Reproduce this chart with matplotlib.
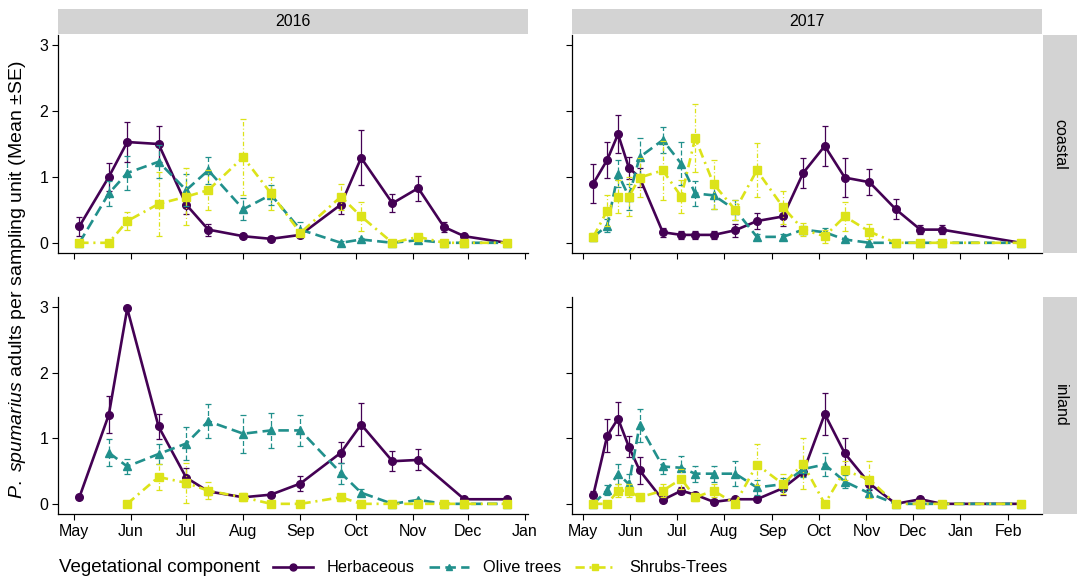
import matplotlib.pyplot as plt
import matplotlib.dates as mdates
from matplotlib.lines import Line2D
import numpy as np
import pandas as pd

plt.rcParams['font.family'] = ['Liberation Sans', 'DejaVu Sans']
plt.rcParams['mathtext.fontset'] = 'custom'
plt.rcParams['mathtext.it'] = 'Liberation Sans:italic'
plt.rcParams['mathtext.rm'] = 'Liberation Sans'

nan = np.nan

# sampling dates
dates_2016 = ['2016-05-04', '2016-05-20', '2016-05-30', '2016-06-16', '2016-07-01', '2016-07-13',
              '2016-08-01', '2016-08-16', '2016-09-01', '2016-09-23', '2016-10-04', '2016-10-21',
              '2016-11-04', '2016-11-18', '2016-11-29', '2016-12-22']
dates_2017 = ['2017-05-08', '2017-05-17', '2017-05-24', '2017-05-31', '2017-06-07', '2017-06-22',
              '2017-07-04', '2017-07-13', '2017-07-25', '2017-08-08', '2017-08-22', '2017-09-08',
              '2017-09-21', '2017-10-05', '2017-10-18', '2017-11-03', '2017-11-20', '2017-12-06',
              '2017-12-20', '2018-02-09']

# coastal 2016
herb_c16 = [0.25, 1.0, 1.53, 1.5, 0.58, 0.2, 0.1, 0.06, 0.12, 0.58, 1.29, 0.6, 0.83, 0.24, 0.1, 0.0]
herb_c16_se = [0.14, 0.21, 0.31, 0.27, 0.15, 0.09, 0.03, 0.03, 0.04, 0.15, 0.42, 0.14, 0.19, 0.08, 0.03, 0.0]
olive_c16 = [0.0, 0.75, 1.06, 1.23, 0.8, 1.1, 0.51, 0.73, 0.2, 0.0, 0.05, 0.0, 0.04, 0.0, 0.0, 0.0]
olive_c16_se = [0.0, 0.19, 0.26, 0.25, 0.24, 0.21, 0.17, 0.15, 0.11, 0.02, 0.03, 0.0, 0.02, 0.0, 0.0, 0.0]
shrub_c16 = [0.0, 0.0, 0.33, 0.59, 0.7, 0.8, 1.3, 0.75, 0.15, 0.7, 0.4, 0.0, 0.09, 0.0, 0.0, 0.0]
shrub_c16_se = [0.0, 0.0, 0.14, 0.49, 0.43, 0.3, 0.58, 0.25, 0.05, 0.2, 0.22, 0.0, 0.05, 0.0, 0.0, 0.0]

# inland 2016
herb_i16 = [0.1, 1.36, 2.98, 1.18, 0.4, 0.19, 0.1, 0.14, 0.31, 0.78, 1.21, 0.65, 0.67, nan, 0.07, 0.07]
herb_i16_se = [0.03, 0.28, 0.02, 0.19, 0.14, 0.05, 0.04, 0.04, 0.12, 0.16, 0.33, 0.15, 0.16, nan, 0.02, 0.02]
olive_i16 = [nan, 0.78, 0.57, 0.76, 0.92, 1.26, 1.07, 1.12, 1.12, 0.47, 0.17, 0.0, 0.06, 0.0, 0.0, 0.0]
olive_i16_se = [nan, 0.21, 0.12, 0.15, 0.25, 0.26, 0.29, 0.27, 0.24, 0.16, 0.05, 0.0, 0.02, 0.0, 0.0, 0.0]
shrub_i16 = [nan, nan, 0.0, 0.41, 0.32, 0.2, 0.1, 0.0, 0.0, 0.1, 0.0, 0.0, 0.0, 0.0, 0.0, 0.0]
shrub_i16_se = [nan, nan, 0.0, 0.2, 0.3, 0.13, 0.06, 0.0, 0.0, 0.05, 0.0, 0.0, 0.0, 0.0, 0.0, 0.0]

# coastal 2017
herb_c17 = [0.9, 1.26, 1.65, 1.14, 0.99, 0.16, 0.12, 0.12, 0.12, 0.19, 0.33, 0.4, 1.06, 1.47,
            0.99, 0.92, 0.51, 0.2, 0.2, 0.0]
herb_c17_se = [0.3, 0.27, 0.29, 0.17, 0.15, 0.07, 0.06, 0.06, 0.06, 0.1, 0.12, 0.14, 0.23, 0.31,
               0.3, 0.2, 0.15, 0.07, 0.07, 0.0]
olive_c17 = [0.09, 0.26, 1.05, 0.7, 1.3, 1.56, 1.2, 0.75, 0.72, 0.5, 0.09, 0.09, 0.2, 0.16,
             0.05, 0.0, 0.0, 0.0, 0.0, 0.0]
olive_c17_se = [0.05, 0.1, 0.21, 0.2, 0.29, 0.2, 0.33, 0.19, 0.2, 0.15, 0.04, 0.04, 0.06, 0.07,
                0.03, 0.0, 0.0, 0.0, 0.0, 0.0]
shrub_c17 = [0.09, 0.49, 0.7, 0.7, 0.99, 1.1, 0.7, 1.59, 0.89, 0.5, 1.1, 0.54, 0.2, 0.1,
             0.4, 0.17, 0.0, 0.0, 0.0, 0.0]
shrub_c17_se = [0.06, 0.23, 0.25, 0.3, 0.3, 0.45, 0.25, 0.51, 0.37, 0.15, 0.41, 0.25, 0.1, 0.1,
                0.22, 0.12, 0.0, 0.0, 0.0, 0.0]

# inland 2017
herb_i17 = [0.14, 1.04, 1.3, 0.87, 0.51, 0.06, 0.2, 0.14, 0.03, 0.07, 0.07, 0.24, 0.48, 1.37,
            0.77, 0.31, 0.0, 0.07, 0.0, 0.0]
herb_i17_se = [0.05, 0.25, 0.25, 0.16, 0.21, 0.03, 0.05, 0.04, 0.02, 0.03, 0.03, 0.1, 0.05, 0.32,
               0.23, 0.1, 0.0, 0.03, 0.0, 0.0]
olive_i17 = [0.0, 0.21, 0.46, 0.3, 1.2, 0.57, 0.55, 0.46, 0.46, 0.46, 0.25, 0.3, 0.53, 0.6,
             0.34, 0.16, 0.0, 0.0, 0.0, 0.0]
olive_i17_se = [0.0, 0.08, 0.15, 0.15, 0.25, 0.12, 0.18, 0.12, 0.12, 0.19, 0.12, 0.1, 0.12, 0.18,
                0.1, 0.06, 0.0, 0.0, 0.0, 0.0]
shrub_i17 = [0.0, 0.0, 0.2, 0.2, 0.1, 0.2, 0.38, 0.1, 0.2, 0.0, 0.6, 0.3, 0.61, 0.0,
             0.51, 0.37, 0.0, 0.0, 0.0, 0.0]
shrub_i17_se = [0.0, 0.0, 0.1, 0.1, 0.05, 0.1, 0.15, 0.05, 0.1, 0.0, 0.31, 0.15, 0.39, 0.0,
                0.15, 0.28, 0.0, 0.0, 0.0, 0.0]

components = ['Herbaceous', 'Olive trees', 'Shrubs-Trees']
colors = ['#440154', '#21908C', '#DCE319']
markers = ['o', '^', 's']
dash_styles = ['-', (0, (4, 2)), (0, (3.5, 1.8, 0.8, 1.8))]

panels = {
    ('coastal', 2016): (dates_2016, [(herb_c16, herb_c16_se), (olive_c16, olive_c16_se), (shrub_c16, shrub_c16_se)]),
    ('coastal', 2017): (dates_2017, [(herb_c17, herb_c17_se), (olive_c17, olive_c17_se), (shrub_c17, shrub_c17_se)]),
    ('inland', 2016): (dates_2016, [(herb_i16, herb_i16_se), (olive_i16, olive_i16_se), (shrub_i16, shrub_i16_se)]),
    ('inland', 2017): (dates_2017, [(herb_i17, herb_i17_se), (olive_i17, olive_i17_se), (shrub_i17, shrub_i17_se)]),
}

W, H = 1083, 579
fig = plt.figure(figsize=(W / 100, H / 100), dpi=100)

def px_axes(x0, y0, x1, y1):
    return fig.add_axes([x0 / W, 1 - y1 / H, (x1 - x0) / W, (y1 - y0) / H])

col_x = {2016: (58, 528), 2017: (572, 1042)}
row_y = {'coastal': (35, 253), 'inland': (297, 514)}
strip_fc = '#d3d3d3'

for (site, year), (dates, series) in panels.items():
    x0, x1 = col_x[year]
    y0, y1 = row_y[site]
    ax = px_axes(x0, y0, x1, y1)
    d = pd.to_datetime(dates)
    for (vals, se), name, c, m, ls in zip(series, components, colors, markers, dash_styles):
        v = np.array(vals, dtype=float)
        e = np.array(se, dtype=float)
        ok = ~np.isnan(v)
        ax.plot(d[ok], v[ok], color=c, lw=1.9, ls=ls, marker=m, ms=5.5, label=name)
        eb = ax.errorbar(d[ok], v[ok], yerr=e[ok], fmt='none', ecolor=c, elinewidth=0.9,
                         capsize=2, capthick=0.9)
        for lc in eb[2]:
            lc.set_linestyle(ls if ls != '-' else 'solid')
    span = d.max() - d.min()
    ax.set_xlim(d.min() - span * 0.05, d.max() + span * 0.05)
    ax.set_ylim(-0.155, 3.155)
    ax.set_yticks([0, 1, 2, 3])
    ax.xaxis.set_major_locator(mdates.MonthLocator())
    ax.xaxis.set_major_formatter(mdates.DateFormatter('%b'))
    for s in ['top', 'right']:
        ax.spines[s].set_visible(False)
    for s in ['left', 'bottom']:
        ax.spines[s].set_linewidth(0.9)
    ax.tick_params(direction='out', length=4, width=0.8, labelsize=11.5, colors='black', pad=3)
    if year == 2017:
        ax.tick_params(labelleft=False)
    if site == 'coastal':
        ax.tick_params(labelbottom=False)
    # right-side strip
    if year == 2017:
        sax = px_axes(1043, y0, 1077, y1)
        sax.set_facecolor(strip_fc)
        sax.set_xticks([]); sax.set_yticks([])
        for s in sax.spines.values():
            s.set_visible(False)
        sax.text(0.5, 0.5, site, rotation=-90, ha='center', va='center', fontsize=11.5)

# top strips
for year, (x0, x1) in col_x.items():
    sax = px_axes(x0, 9, x1, 34)
    sax.set_facecolor(strip_fc)
    sax.set_xticks([]); sax.set_yticks([])
    for s in sax.spines.values():
        s.set_visible(False)
    sax.text(0.5, 0.5, str(year), ha='center', va='center', fontsize=11.5)

fig.text(18 / W, 1 - 280 / H, r'$\it{P.\ spumarius}$ adults per sampling unit (Mean $\pm$SE)',
         rotation=90, ha='center', va='center', fontsize=14)

handles = [Line2D([], [], color=c, lw=1.9, ls=ls, marker=m, ms=5)
           for c, m, ls in zip(colors, markers, dash_styles)]
fig.text(59 / W, 1 - 568 / H, 'Vegetational component', ha='left', va='center', fontsize=13.5)
fig.legend(handles, components, loc='center left', bbox_to_anchor=(273 / W, 1 - 568 / H),
           ncol=3, frameon=False, fontsize=11.7, handlelength=2.46, columnspacing=0.86,
           handletextpad=0.86, borderaxespad=0, borderpad=0)

fig.savefig('out.png', dpi=100)
